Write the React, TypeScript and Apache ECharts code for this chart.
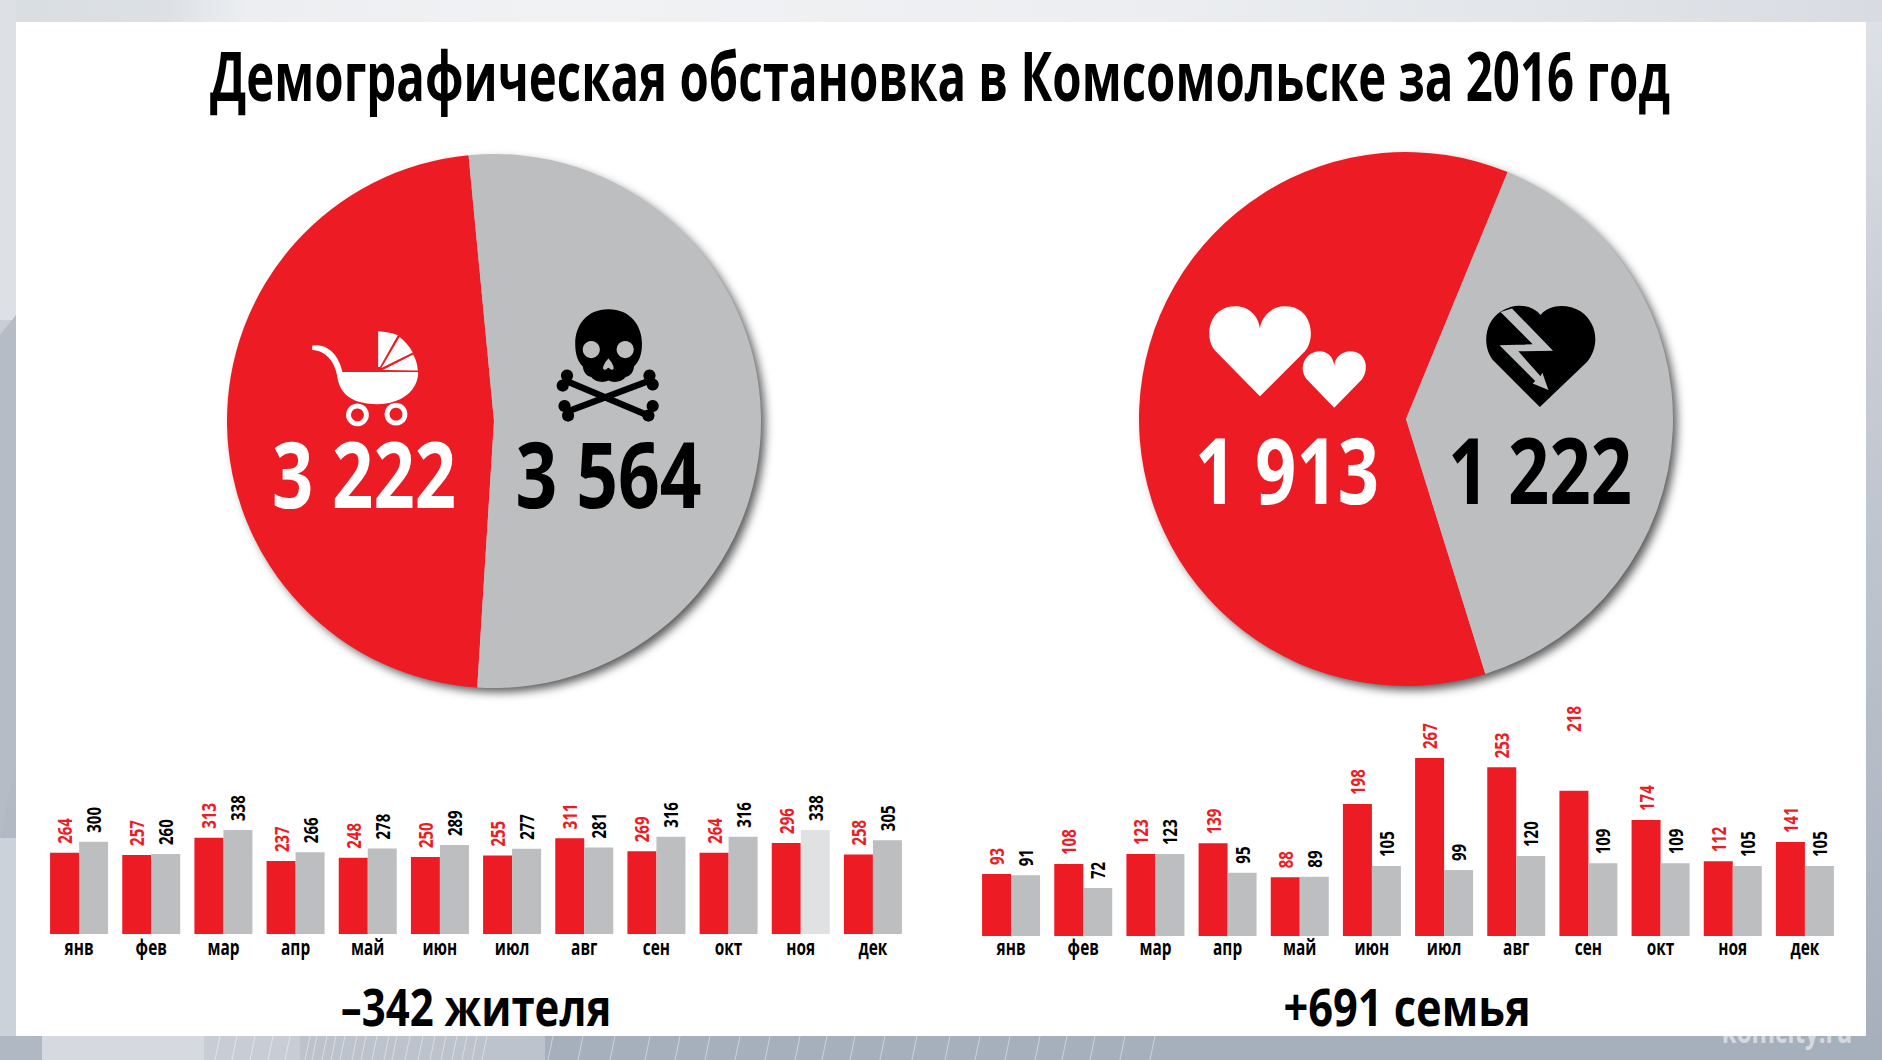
import React, { useEffect, useRef } from "react";
import * as echarts from "echarts";

const titleText = "Демографическая обстановка в Комсомольске за 2016 год";
const months = ["янв", "фев", "мар", "апр", "май", "июн", "июл", "авг", "сен", "окт", "ноя", "дек"];
const birthsMonthly = [264, 257, 313, 237, 248, 250, 255, 311, 269, 264, 296, 258];
const deathsMonthly = [300, 260, 338, 266, 278, 289, 277, 281, 316, 316, 338, 305];
const marriagesMonthly = [93, 108, 123, 139, 88, 198, 267, 253, 218, 174, 112, 141];
const divorcesMonthly = [91, 72, 123, 95, 89, 105, 99, 120, 109, 109, 105, 105];
const populationTotals = [3222, 3564];
const familyTotals = [1913, 1222];
const populationCaption = "–342 жителя";
const familyCaption = "+691 семья";

const RED = "#ed1c24";
const GREY = "#bcbec0";
const LIGHT = "#e0e1e3";
const FONT = '"Open Sans", "Liberation Sans", sans-serif';

const STROLLER = "M258 576C300 570 332 600 343 650L555 650C556 700 510 740 440 740C380 740 335 720 328 660C322 625 300 590 258 588ZM443 536Q472 537 498 547L448 636L443 636ZM503 552Q526 570 540 595L452 639ZM541 601Q553 622 554 646L456 644Z";
const SKULL = "M1088 474C1150 474 1182 520 1182 570C1182 605 1172 622 1160 634C1158 650 1150 662 1136 664C1125 680 1100 680 1088 674C1076 680 1052 680 1040 664C1026 662 1018 650 1016 634C1004 622 995 605 995 570C995 520 1026 474 1088 474Z";
const NOSE = "M1088 612C1096 620 1106 636 1102 642C1096 646 1092 640 1088 638C1084 640 1080 646 1074 642C1070 636 1080 620 1088 612Z";
const BIG_HEART = "M364 718L240 592C205 555 220 466 295 466C335 466 360 495 364 528C368 495 395 466 435 466C510 466 522 555 490 592Z";
const SMALL_HEART = "M572 750L495 670C470 640 490 592 532 592C555 592 570 610 572 632C574 610 592 592 618 592C660 592 672 640 650 670Z";
const BROKEN_HEART = "M1148 748L1022 622C985 585 990 510 1040 480C1075 455 1125 460 1150 490C1175 460 1225 458 1262 480C1312 515 1315 580 1280 622Z";
const BOLT = "M1038 482L1128 572L1035 575L1135 675L1128 682L1172 700L1155 652L1150 662L1088 592L1185 590L1070 472Z";

echarts.graphic.registerShape("stroller", echarts.graphic.extendPath(STROLLER, {}));
echarts.graphic.registerShape("skull", echarts.graphic.extendPath(SKULL, {}));
echarts.graphic.registerShape("nose", echarts.graphic.extendPath(NOSE, {}));
echarts.graphic.registerShape("bigHeart", echarts.graphic.extendPath(BIG_HEART, {}));
echarts.graphic.registerShape("smallHeart", echarts.graphic.extendPath(SMALL_HEART, {}));
echarts.graphic.registerShape("brokenHeart", echarts.graphic.extendPath(BROKEN_HEART, {}));
echarts.graphic.registerShape("bolt", echarts.graphic.extendPath(BOLT, {}));

const spaced = (n: number) => {
  const s = String(n);
  return s.slice(0, s.length - 3) + " " + s.slice(-3);
};

const band = (x: number, y: number, width: number, height: number, fill: any) => ({
  type: "rect", z: -10, shape: { x, y, width, height }, style: { fill },
});

const streak = (x: number) => ({
  type: "line", z: -9, shape: { x1: x + 5, y1: 1036, x2: x, y2: 1060 },
  style: { stroke: "rgba(255,255,255,0.45)", lineWidth: 1 },
});
const streakPositions = [215, 232, 250, 268, 285, 305, 312, 322, 331, 340, 352, 361, 372, 384, 392, 405, 418, 430, 441, 452, 462, 472, 482, 548, 578, 610, 645, 675, 705, 735, 765, 795, 822, 850, 880, 912, 945, 975, 1005, 1035, 1062, 1090, 1120, 1150];

const textStyle = (text: string, fill: string, size: number, align: string) => ({
  text, fill, fontFamily: FONT, fontWeight: "bold", fontSize: size,
  align, verticalAlign: "middle", textAlign: align, textVerticalAlign: "middle",
});

const bigText = (text: string, x: number, baseline: number, size: number, fill: string, scaleX: number) => ({
  type: "text", z: 5, x, y: baseline - 0.388 * size, scaleX,
  originX: 0, originY: 0,
  style: textStyle(text, fill, size, "center"),
});

const ICON_Z = 5;
const bone = (x1: number, y1: number, x2: number, y2: number) => ({
  type: "line", z: ICON_Z, shape: { x1, y1, x2, y2 }, style: { stroke: "#000", lineWidth: 18 },
});
const knob = (cx: number, cy: number) => ({ type: "circle", z: ICON_Z, shape: { cx, cy, r: 17 }, style: { fill: "#000" } });

const barSeries = (name: string, data: any[], color: string, idx: number) => ({
  name, type: "bar", xAxisIndex: idx, yAxisIndex: idx, data, barWidth: 29, barGap: 0,
  itemStyle: { color }, label: { show: false },
});

// Rotated, horizontally squeezed value labels placed through the axes' scales.
const valueLabels = (values: number[], color: string, idx: number, dx: number, raised: number) => ({
  type: "custom", coordinateSystem: "cartesian2d", xAxisIndex: idx, yAxisIndex: idx, z: 6, clip: false, silent: true,
  encode: { x: 0, y: 1 },
  data: values.map((v, i) => [i, v]),
  renderItem: (_: any, api: any) => {
    const i = api.value(0);
    const v = api.value(1);
    const p = api.coord([i, v]);
    return {
      type: "text", x: p[0] + dx - 0.5, y: p[1] - 9 - (i === raised ? 50 : 0),
      rotation: Math.PI / 2, scaleX: 0.75,
      style: textStyle(String(v), color, 20, "left"),
    };
  },
});

const monthLabels = (idx: number, gap: number) => ({
  type: "custom", coordinateSystem: "cartesian2d", xAxisIndex: idx, yAxisIndex: idx, z: 6, clip: false, silent: true,
  encode: { x: 0, y: 1 },
  data: months.map((_, i) => [i, 0]),
  renderItem: (_: any, api: any) => {
    const i = api.value(0);
    const p = api.coord([i, 0]);
    return {
      type: "text", x: p[0], y: p[1] + gap, scaleX: 0.7,
      style: textStyle(months[i], "#000", 22, "center"),
    };
  },
});

const pieSeries = (center: number[], data: number[], startAngle: number) => ({
  type: "pie", center, radius: [0, 267], startAngle, clockwise: true, silent: true,
  label: { show: false }, labelLine: { show: false },
  data: [
    { value: data[0], itemStyle: { color: RED } },
    { value: data[1], itemStyle: { color: GREY } },
  ],
});

const shadow = { shadowColor: "rgba(0,0,0,0.65)", shadowBlur: 10, shadowOffsetX: 5, shadowOffsetY: 5 };

export default function App() {
  const ref = useRef<HTMLDivElement>(null);
  useEffect(() => {
    document.body.style.margin = "0";
    const chart = echarts.init(ref.current!, undefined, { renderer: "svg" });
    chart.setOption({
      animation: false,
      backgroundColor: "transparent",
      grid: [
        { left: 43, width: 866, top: 830, height: 104 },
        { left: 975, width: 866, top: 758, height: 178 },
      ],
      xAxis: [0, 1].map((gridIndex) => ({
        type: "category", gridIndex, data: months,
        axisLine: { show: false }, axisTick: { show: false }, axisLabel: { show: false },
      })),
      yAxis: [
        { type: "value", gridIndex: 0, min: 0, max: 338, show: false },
        { type: "value", gridIndex: 1, min: 0, max: 267, show: false },
      ],
      series: [
        pieSeries([494, 421], populationTotals, -93.6),
        pieSeries([1406, 419], familyTotals, -72.7),
        barSeries("Родившиеся", birthsMonthly, RED, 0),
        barSeries("Умершие", deathsMonthly.map((v, i) => (i === 10 ? { value: v, itemStyle: { color: LIGHT } } : v)), GREY, 0),
        barSeries("Браки", marriagesMonthly, RED, 1),
        barSeries("Разводы", divorcesMonthly, GREY, 1),
        valueLabels(birthsMonthly, RED, 0, -14.5, -1),
        valueLabels(deathsMonthly, "#000", 0, 14.5, -1),
        valueLabels(marriagesMonthly, RED, 1, -14.5, 8),
        valueLabels(divorcesMonthly, "#000", 1, 14.5, -1),
        monthLabels(0, 13),
        monthLabels(1, 11),
      ],
      graphic: [
        { type: "rect", z: -11, shape: { x: 0, y: 0, width: 1882, height: 1060 },
          style: { fill: new echarts.graphic.LinearGradient(0, 0, 0, 1, [
            { offset: 0, color: "#dfe3e8" }, { offset: 0.3, color: "#c9ced6" }, { offset: 1, color: "#a6afbb" },
          ]) } },
        band(0, 0, 1882, 22, new echarts.graphic.LinearGradient(0, 0, 1, 0, [
          { offset: 0, color: "#d8dde2" }, { offset: 0.09, color: "#dde1e6" }, { offset: 0.13, color: "#eceef1" },
          { offset: 0.3, color: "#f0f2f4" }, { offset: 0.6, color: "#eceef1" }, { offset: 0.8, color: "#e3e6ea" }, { offset: 1, color: "#d8dce2" },
        ])),
        band(0, 0, 16, 320, "#dde1e6"),
        { type: "polygon", z: -10, shape: { points: [[0, 335], [16, 315], [16, 760], [0, 838]] }, style: { fill: "#b5bcc6" } },
        band(0, 838, 16, 222, "#ccd2d9"),
        band(0, 1036, 42, 24, "#b0b8c3"), band(42, 1036, 162, 24, "#d6dae0"), band(204, 1036, 96, 24, "#c8cdd5"),
        band(300, 1036, 245, 24, "#bcc3cc"), band(545, 1036, 1337, 24, "#a6afbc"),
        ...streakPositions.map(streak),
        { type: "text", z: -9, x: 1787, y: 1031, scaleX: 0.8, style: textStyle("komcity.ru", "rgba(255,255,255,0.55)", 30, "center") },
        { type: "rect", z: -8, shape: { x: 16, y: 22, width: 1850, height: 1014 }, style: { fill: "#fff" } },
        { type: "circle", z: -5, shape: { cx: 494, cy: 421, r: 266 }, style: { fill: GREY, ...shadow } },
        { type: "circle", z: -5, shape: { cx: 1406, cy: 419, r: 266 }, style: { fill: GREY, ...shadow } },
        bigText(titleText, 940, 101, 68, "#000", 0.697),
        bigText(spaced(populationTotals[0]), 364, 508, 92, "#fff", 0.785),
        bigText(spaced(populationTotals[1]), 608.5, 508, 92, "#000", 0.795),
        bigText(spaced(familyTotals[0]), 1287, 504, 92, "#fff", 0.785),
        bigText(spaced(familyTotals[1]), 1540, 504, 92, "#000", 0.785),
        bigText(populationCaption, 476, 1026, 52, "#000", 0.807),
        bigText(familyCaption, 1407, 1026, 52, "#000", 0.834),
        { type: "group", x: 220, y: 140, scaleX: 1 / 2.8, scaleY: 1 / 2.8, children: [
          { type: "stroller", z: ICON_Z, style: { fill: "#fff" } },
          { type: "ring", z: ICON_Z, shape: { cx: 385, cy: 770, r: 32, r0: 18 }, style: { fill: "#fff" } },
          { type: "ring", z: ICON_Z, shape: { cx: 493, cy: 768, r: 32, r0: 18 }, style: { fill: "#fff" } },
          bone(970, 675, 1208, 775), bone(970, 762, 1208, 672),
          knob(972, 660), knob(960, 688), knob(965, 745), knob(975, 772),
          knob(1203, 660), knob(1212, 685), knob(1212, 745), knob(1200, 772),
          { type: "skull", z: ICON_Z, style: { fill: "#000" } },
          { type: "circle", z: ICON_Z, shape: { cx: 1040, cy: 587, r: 24 }, style: { fill: GREY } },
          { type: "circle", z: ICON_Z, shape: { cx: 1135, cy: 587, r: 24 }, style: { fill: GREY } },
          { type: "nose", z: ICON_Z, style: { fill: GREY } },
        ] },
        { type: "group", x: 1130, y: 140, scaleX: 1 / 2.8, scaleY: 1 / 2.8, children: [
          { type: "bigHeart", z: ICON_Z, style: { fill: "#fff" } },
          { type: "smallHeart", z: ICON_Z, style: { fill: "#fff" } },
          { type: "brokenHeart", z: ICON_Z, style: { fill: "#000" } },
          { type: "bolt", z: ICON_Z, style: { fill: GREY } },
        ] },
      ],
    });
    return () => chart.dispose();
  }, []);
  return <div ref={ref} style={{ width: 1882, height: 1060 }} />;
}
